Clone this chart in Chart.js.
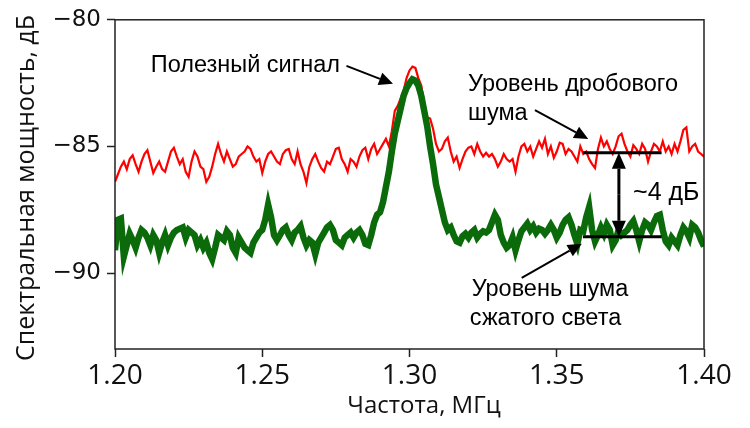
<!DOCTYPE html>
<html>
<head>
<meta charset="utf-8">
<script src="https://cdn.jsdelivr.net/npm/chart.js@4.4.1/dist/chart.umd.min.js"></script>
<style>
  html, body { margin: 0; padding: 0; background: #fff; }
  canvas { display: block; }
</style>
</head>
<body>
<canvas id="grafico" width="750" height="428"></canvas>
<script>
// ==========================================================
// Спектр шума: дробовой шум vs сжатый свет
// ==========================================================

// частотная сетка (МГц)
const freqStart = 1.2;
const freqStep = 0.001;

// уровень дробового шума, дБ (красная кривая)
const shotNoise = [
  -86.4, -86.1, -85.8, -85.6, -85.9, -85.5, -85.35, -85.7, -86.0, -85.6,
  -85.3, -85.15, -85.6, -86.05, -85.8, -85.6, -85.9, -86.0, -85.6, -85.2,
  -85.05, -85.4, -85.7, -85.5, -86.0, -86.2, -85.6, -85.2, -85.4, -85.8,
  -85.9, -86.4, -86.2, -85.8, -85.3, -84.9, -85.3, -85.6, -85.2, -85.5,
  -85.8, -85.7, -85.4, -85.3, -85.2, -85.0, -85.1, -85.4, -85.6, -85.5,
  -86.05, -85.6, -85.3, -85.2, -85.4, -85.6, -85.7, -85.3, -85.15, -85.1,
  -85.5, -85.7, -85.2, -85.7, -86.0, -86.45, -85.8, -85.5, -85.3, -85.6,
  -85.85, -86.0, -85.6, -85.7, -85.4, -85.1, -85.05, -85.5, -85.7, -86.0,
  -85.5, -85.6, -85.8, -85.4, -85.15, -85.05, -85.5, -85.1, -84.9, -85.3,
  -85.1, -84.9, -84.7, -85.0, -84.4, -83.6, -83.4, -83.1, -82.8, -82.3,
  -82.0, -81.85, -81.9, -82.3, -82.6, -83.3, -83.85, -83.9, -84.3, -84.9,
  -85.2, -85.1, -84.8, -84.65, -85.2, -85.6, -85.4, -85.85, -85.5, -85.2,
  -85.05, -85.0, -85.3, -84.9, -85.2, -85.4, -85.25, -85.4, -85.3, -85.5,
  -85.8, -85.6, -85.3, -85.5, -85.6, -85.5, -86.0, -85.4, -85.0, -84.9,
  -85.2, -85.0, -85.4, -85.1, -84.8, -85.05, -84.7, -85.3, -85.0, -85.45,
  -85.2, -84.85, -84.9, -85.3, -85.1, -85.2, -85.4, -85.6, -85.0, -85.3,
  -85.2, -85.5, -85.7, -85.85, -85.1, -84.65, -85.0, -84.8, -85.1, -85.3,
  -85.0, -84.6, -84.5, -84.9, -85.2, -85.4, -84.95, -85.1, -85.3, -84.9,
  -85.1, -85.6, -85.2, -84.9, -85.0, -85.2, -84.8, -85.2, -85.0, -85.3,
  -84.9, -85.2, -84.8, -84.35, -84.25, -85.2, -85.0, -84.9, -85.2, -85.3,
  -85.4
];

// уровень шума сжатого света, дБ (зелёная кривая)
const squeezedNoise = [
  -89.1, -87.9, -87.85, -89.35, -88.9, -88.45, -88.7, -89.0, -88.6, -88.3,
  -88.4, -88.6, -88.9, -88.5, -88.7, -89.2, -88.8, -88.5, -88.9, -88.6,
  -88.4, -88.3, -88.25, -88.2, -88.6, -88.3, -88.4, -88.5, -88.9, -88.7,
  -89.0, -88.8, -89.2, -89.45, -89.0, -88.5, -88.6, -88.7, -88.35, -88.5,
  -89.0, -89.2, -88.6, -88.8, -89.0, -89.1, -89.2, -88.8, -88.6, -88.4,
  -88.3, -87.9, -87.3, -87.8, -88.5, -88.7, -88.5, -88.3, -88.2, -88.5,
  -88.7, -88.4, -88.3, -88.15, -88.6, -88.9, -88.7, -88.8, -89.25, -88.8,
  -88.6, -88.4, -88.2, -88.1, -88.3, -88.7, -88.8, -88.9, -88.6, -88.5,
  -88.4, -88.6, -88.4, -88.3, -88.5, -88.85, -88.9, -88.5, -88.0, -87.7,
  -87.6, -87.2, -86.6, -86.0, -85.2, -84.5, -84.0, -83.5, -83.0, -82.7,
  -82.5, -82.35, -82.4, -82.6, -83.0, -83.6, -84.2, -85.0, -85.7, -86.5,
  -87.0, -87.5, -88.0, -88.3, -88.2, -88.5, -88.75, -88.8, -88.55, -88.45,
  -88.6, -88.4, -88.3, -88.6, -88.45, -88.35, -88.4, -88.3, -88.0, -87.7,
  -87.9, -88.5, -88.8, -89.0, -88.9, -88.6, -89.1, -88.7, -88.35, -88.2,
  -88.05, -88.3, -88.15, -88.4, -88.25, -88.3, -88.45, -88.3, -88.1, -88.3,
  -88.6, -88.4, -88.1, -87.9, -87.8, -88.1, -88.5, -88.85, -88.3, -88.35,
  -87.8, -87.4, -88.3, -88.75, -88.5, -88.2, -88.45, -88.1, -88.3, -88.9,
  -88.7, -88.3, -88.5, -88.4, -88.3, -88.1, -87.95, -88.3, -88.75, -88.3,
  -88.0, -88.1, -88.3, -88.0, -87.75, -87.7, -88.3, -88.75, -88.9, -88.6,
  -88.75, -88.9, -88.5, -88.2, -88.35, -88.6, -88.1, -88.2, -88.4, -88.7,
  -88.95
];

// подписи делений
const xTicks = [1.20, 1.25, 1.30, 1.35, 1.40];
const yTicks = [-90, -85, -80];

const xTitle = "Частота, МГц";
const yTitle = "Спектральная мощность, дБ";

// уровни для стрелки "~4 дБ"
const shotLevel = -85.25;
const squeezedLevel = -88.57;

// подписи и стрелки (в координатах данных)
const notes = [
  { text: "Полезный сигнал", x: 1.2764, y: -81.80, align: "right", size: 23.5 },
  { text: "Уровень дробового", x: 1.3199, y: -82.54, align: "left", size: 23.5 },
  { text: "шума", x: 1.3199, y: -83.69, align: "left", size: 23.5 },
  { text: "~4 дБ", x: 1.3759, y: -86.85, align: "left", size: 25 },
  { text: "Уровень шума", x: 1.3211, y: -90.65, align: "left", size: 23.5 },
  { text: "сжатого света", x: 1.3205, y: -91.78, align: "left", size: 23.5 }
];
const arrows = [
  { from: [1.2786, -81.82], to: [1.2944, -82.53] },
  { from: [1.3426, -83.57], to: [1.3607, -84.71] },
  { from: [1.3381, -90.19], to: [1.3585, -88.84] }
];

const pts = arr => arr.map((v, i) => ({ x: +(freqStart + i * freqStep).toFixed(3), y: v }));

// рисует стрелку с залитым наконечником
function drawArrow(ctx, x1, y1, x2, y2, lw, len, half) {
  const ang = Math.atan2(y2 - y1, x2 - x1);
  const bx = x2 - len * Math.cos(ang);
  const by = y2 - len * Math.sin(ang);
  ctx.lineWidth = lw;
  ctx.beginPath();
  ctx.moveTo(x1, y1);
  ctx.lineTo(bx, by);
  ctx.stroke();
  ctx.beginPath();
  ctx.moveTo(x2, y2);
  ctx.lineTo(bx + half * Math.sin(ang), by - half * Math.cos(ang));
  ctx.lineTo(bx - half * Math.sin(ang), by + half * Math.cos(ang));
  ctx.closePath();
  ctx.fill();
}

// рамка, заголовки осей и аннотации
const extras = {
  id: "extras",
  afterDraw(chart) {
    const { ctx, chartArea: a, scales: { x, y } } = chart;
    ctx.save();
    ctx.strokeStyle = "#222";
    ctx.lineWidth = 1.5;
    ctx.strokeRect(a.left, a.top, a.right - a.left, a.bottom - a.top);

    ctx.fillStyle = "#111";
    ctx.textAlign = "center";
    ctx.textBaseline = "middle";
    ctx.font = '24px "Open Sans"';
    ctx.fillText(xTitle, 424, 406);
    ctx.save();
    ctx.translate(27, 188);
    ctx.rotate(-Math.PI / 2);
    ctx.font = '25px "Open Sans"';
    ctx.fillText(yTitle, 0, 0);
    ctx.restore();

    ctx.fillStyle = "#000";
    ctx.strokeStyle = "#000";
    notes.forEach(n => {
      ctx.font = n.size + 'px "Liberation Sans"';
      ctx.textAlign = n.align;
      ctx.fillText(n.text, x.getPixelForValue(n.x), y.getPixelForValue(n.y));
    });

    arrows.forEach(ar => {
      drawArrow(ctx,
        x.getPixelForValue(ar.from[0]), y.getPixelForValue(ar.from[1]),
        x.getPixelForValue(ar.to[0]), y.getPixelForValue(ar.to[1]),
        2, 14, 6.5);
    });

    // горизонтальные уровни
    const xl = x.getPixelForValue(1.3589);
    const xr = x.getPixelForValue(1.3856);
    const yTop = y.getPixelForValue(shotLevel);
    const yBot = y.getPixelForValue(squeezedLevel);
    ctx.lineWidth = 3;
    ctx.beginPath();
    ctx.moveTo(xl, yTop); ctx.lineTo(xr, yTop);
    ctx.moveTo(xl, yBot); ctx.lineTo(xr, yBot);
    ctx.stroke();

    // двусторонняя стрелка
    const xm = x.getPixelForValue(1.3711);
    const ym = (yTop + yBot) / 2;
    drawArrow(ctx, xm, ym, xm, yTop, 3, 16, 7);
    drawArrow(ctx, xm, ym, xm, yBot, 3, 16, 7);
    ctx.restore();
  }
};

const ctx = document.getElementById("grafico").getContext("2d");
const grafico = new Chart(ctx, {
  type: "line",
  data: {
    datasets: [
      { label: "Сжатый свет", data: pts(squeezedNoise), borderColor: "#0b6b0b", borderWidth: 6.5, pointRadius: 0, order: 0 },
      { label: "Дробовой шум", data: pts(shotNoise), borderColor: "#ff0000", borderWidth: 2.2, pointRadius: 0, order: 1 }
    ]
  },
  options: {
    responsive: false,
    animation: false,
    devicePixelRatio: 1,
    layout: { padding: { top: 19, right: 46, left: 0, bottom: 0 } },
    plugins: { legend: { display: false }, tooltip: { enabled: false } },
    scales: {
      x: {
        type: "linear",
        min: 1.2,
        max: 1.4,
        afterFit: s => { s.height = 79; },
        afterBuildTicks: s => { s.ticks = xTicks.map(v => ({ value: v })); },
        border: { display: false },
        grid: { drawOnChartArea: false, drawTicks: true, tickLength: 8, tickWidth: 1.5, tickColor: "#222" },
        ticks: {
          callback: v => v.toFixed(2),
          font: { family: "'Open Sans'", size: 28 },
          color: "#111",
          padding: 2,
          maxRotation: 0,
          autoSkip: false
        }
      },
      y: {
        min: -93,
        max: -80,
        afterFit: s => { s.width = 115; },
        afterBuildTicks: s => { s.ticks = yTicks.map(v => ({ value: v })); },
        border: { display: false },
        grid: { drawOnChartArea: false, drawTicks: true, tickLength: 8, tickWidth: 1.5, tickColor: "#222" },
        ticks: {
          callback: v => String(v).replace("-", "\u2212"),
          font: { family: "'DejaVu Sans', Verdana, sans-serif", size: 23 },
          color: "#111",
          padding: 6
        }
      }
    }
  },
  plugins: [extras]
});
</script>
</body>
</html>
